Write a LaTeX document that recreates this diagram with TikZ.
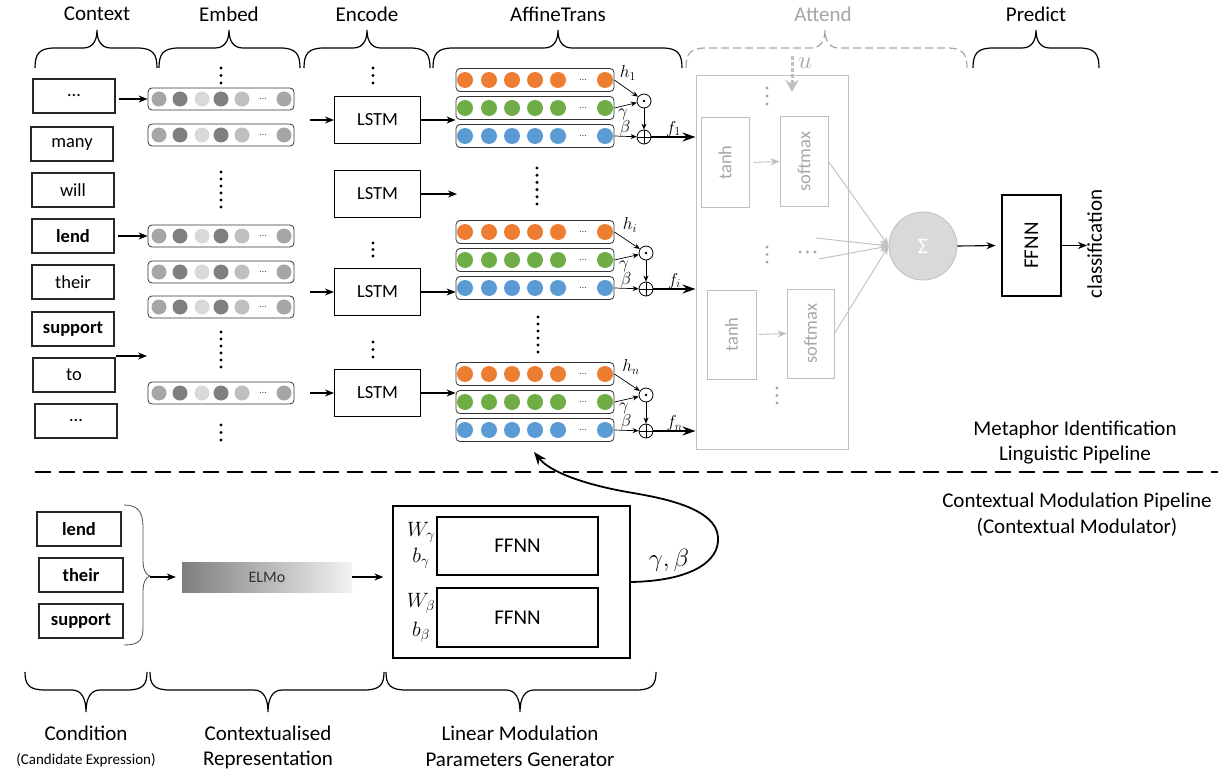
\documentclass[tikz,border=0pt]{standalone}
\usepackage{fontspec}
\setmainfont{Carlito}
\usetikzlibrary{arrows.meta,calc}
\definecolor{cor}{HTML}{ED7D31}
\definecolor{cgr}{HTML}{70AD47}
\definecolor{cbl}{HTML}{5B9BD5}
\definecolor{g1}{HTML}{A6A6A6}
\definecolor{g2}{HTML}{7F7F7F}
\definecolor{g3}{HTML}{D9D9D9}
\definecolor{g4}{HTML}{BFBFBF}
\definecolor{g5}{HTML}{F2F2F2}
\newcommand\fsz[1]{\fontsize{#1}{#1}\selectfont}
% horizontal curly brace: opts, x1, xm, x2, yend, yh, ytip
\newcommand\hbr[7]{%
  \draw[#1] (#2,#5) .. controls (#2,{#6+0.3*(#5-#6)}) and ({#2+4},#6) .. ({#2+20},#6)
    -- ({#3-14},#6) .. controls ({#3-5},#6) and (#3,{#6+0.35*(#7-#6)}) .. (#3,#7)
    .. controls (#3,{#6+0.35*(#7-#6)}) and ({#3+5},#6) .. ({#3+14},#6)
    -- ({#4-20},#6) .. controls ({#4-4},#6) and (#4,{#6+0.3*(#5-#6)}) .. (#4,#5);}
\newcommand\embrow[2]{%
  \node[erow] (#1) at (221,#2) {};
  \foreach \cx/\cc in {159/g1,180/g2,202/g3,221/g2,242/g4,284/g1}{\fill[\cc] (\cx,#2) circle (7.5pt);}
  \node[rdots] (#1d) at (263,#2) {…};}
\newcommand\affrow[3]{%
  \node[arow] (#1) at (535,#2) {};
  \foreach \cx in {465,489,512,535,558,605}{\fill[#3] (\cx,#2) circle (8pt);}
  \node[rdots] (#1d) at (583,#2) {…};}
\newcommand\dotsv[3]{\foreach \yy in {#2}{\fill[#3] (#1,\yy) circle (1.7pt);}}
\begin{document}
\begin{tikzpicture}[x=1pt,y=-1pt,
  head/.style={font=\fsz{21}, inner sep=0},
  lab/.style={font=\fsz{21}, inner sep=0},
  wbox/.style={draw=black!85, line width=1.1pt, minimum width=82pt, minimum height=34pt, inner sep=0, font=\fsz{18.5}},
  bwbox/.style={wbox, font=\fsz{18.5}\bfseries},
  erow/.style={draw=black!80, line width=0.8pt, rounded corners=4pt, minimum width=146pt, minimum height=22pt, inner sep=0},
  arow/.style={erow, minimum width=158pt, minimum height=23pt},
  rdots/.style={font=\fsz{10}, text=black!70, inner sep=0},
  lstm/.style={draw, line width=1.1pt, minimum width=86pt, minimum height=47pt, inner sep=0, font=\fsz{18.5}},
  op/.style={circle, draw, line width=0.8pt, minimum size=14pt, inner sep=0},
  mlab/.style={font=\fsz{17}, inner sep=0},
  arr/.style={-{Stealth[length=9pt,width=7pt]}, line width=1.1pt},
  tarr/.style={-{Stealth[length=6pt,width=5pt]}, line width=0.7pt},
  farr/.style={-{Stealth[length=13pt,width=9pt]}, line width=1.8pt},
  garr/.style={draw=g4, -{Stealth[length=9pt,width=7pt]}, line width=0.9pt},
  abox/.style={draw=g4, line width=1pt, text=g1, rotate=90, inner sep=0, font=\fsz{18.5}},
  brc/.style={line width=1.2pt},
  ffbox/.style={draw, line width=1.1pt, inner sep=0, font=\fsz{21}}
]
\useasboundingbox (0,0) rectangle (1226,773);

% ---------- headings and braces ----------
\node[head] (hctx) at (97,14) {Context};
\node[head] (hemb) at (229,14) {Embed};
\node[head] (henc) at (367,14) {Encode};
\node[head] (haff) at (558,14) {AffineTrans};
\node[head, text=g1] (hatt) at (823,14) {Attend};
\node[head] (hpre) at (1036,14) {Predict};
\hbr{brc}{35}{97}{157}{68}{48}{30}
\hbr{brc}{159}{229}{300}{68}{48}{30}
\hbr{brc}{304}{367}{430}{68}{48}{30}
\hbr{brc}{433}{558}{682}{68}{48}{30}
\hbr{brc, draw=g1, dash pattern=on 8pt off 4pt}{686}{825}{967}{68}{48}{30}
\hbr{brc}{973}{1036}{1099}{68}{48}{30}

% ---------- context ----------
\node[wbox] (w1) at (74,96) {…};
\node[wbox] (w2) at (72,144) {many};
\node[wbox] (w3) at (73,190) {will};
\node[bwbox] (w4) at (73,236) {lend};
\node[wbox] (w5) at (73,282) {their};
\node[bwbox] (w6) at (73,329) {support};
\node[wbox] (w7) at (74,375) {to};
\node[wbox] (w8) at (76,421) {…};

% ---------- embed ----------
\embrow{e1}{99}
\embrow{e2}{135}
\embrow{e3}{236}
\embrow{e4}{272}
\embrow{e5}{307}
\embrow{e6}{393}
\dotsv{221}{68,75.5,83}{black}
\dotsv{221}{172,179,...,207}{black}
\dotsv{221}{332,339,...,367}{black}
\dotsv{221}{425,432.5,440}{black}
\draw[arr, shorten <=3pt] (w1.east |- e1.west) -- (e1.west);
\draw[arr, shorten <=3pt] (w4.east) -- (w4.east -| e3.west);
\coordinate (ca) at (116,356);
\coordinate (cb) at (147,356);
\draw[arr] (ca) -- (cb);

% ---------- encode ----------
\node[lstm] (l1) at (377.5,120) {LSTM};
\node[lstm] (l2) at (377.5,194) {LSTM};
\node[lstm] (l3) at (377.5,292) {LSTM};
\node[lstm] (l4) at (377.5,393) {LSTM};
\dotsv{373}{68,75.5,83}{black}
\dotsv{373}{243,249.5,256}{black}
\dotsv{373}{342,349.5,357}{black}
\coordinate (li1) at (310,120);
\coordinate (li3) at (310,292);
\coordinate (li4) at (310,393);
\draw[arr] (li1) -- (l1.west);
\draw[arr] (li3) -- (l3.west);
\draw[arr] (li4) -- (l4.west);

% ---------- affine ----------
\affrow{a1o}{80}{cor}
\affrow{a1g}{108}{cgr}
\affrow{a1b}{136}{cbl}
\affrow{a2o}{232}{cor}
\affrow{a2g}{260}{cgr}
\affrow{a2b}{288}{cbl}
\affrow{a3o}{374}{cor}
\affrow{a3g}{402}{cgr}
\affrow{a3b}{430}{cbl}
\dotsv{537}{168,175.2,...,204}{black}
\dotsv{538}{317,324,...,352}{black}
\coordinate (lo2) at (457,194);
\draw[arr] (l1.east) -- (l1.east -| a1g.west);
\draw[arr] (l2.east) -- (lo2);
\draw[arr] (l3.east) -- (l3.east -| a2b.west);
\draw[arr] (l4.east) -- (l4.east -| a3g.west);

% operators
\node[op] (m1) at (644,101) {};
\node[op] (p1) at (644,137) {};
\node[op] (m2) at (646,253) {};
\node[op] (p2) at (646,289) {};
\node[op] (m3) at (646,395) {};
\node[op] (p3) at (646,431) {};
\foreach \m in {m1,m2,m3}{\fill (\m) circle (1.3pt);}
\foreach \p in {p1,p2,p3}{\draw[line width=0.8pt] (\p.north) -- (\p.south) (\p.west) -- (\p.east);}

% attend box
\node[draw=g4, line width=1pt, minimum width=152pt, minimum height=373pt, inner sep=0] (att) at (772,262.5) {};

\draw[tarr] (a1o.east) -- (m1);
\draw[tarr] (a1g.east) -- (m1);
\draw[tarr] (a1b.east) -- (p1);
\draw[tarr] (m1) -- (p1);
\node[mlab] (h1) at (628,73) {$h_1$};
\node[mlab] (gm1) at (623,114) {$\gamma$};
\node[mlab] (bt1) at (625,128) {$\beta$};
\draw[farr] (p1) -- (p1 -| att.west) node[midway, above=-4pt, font=\fsz{17}] (f1) {$f_1$};

\draw[tarr] (a2o.east) -- (m2);
\draw[tarr] (a2g.east) -- (m2);
\draw[tarr] (a2b.east) -- (p2);
\draw[tarr] (m2) -- (p2);
\node[mlab] (h2) at (630,225) {$h_i$};
\node[mlab] (gm2) at (624,266) {$\gamma$};
\node[mlab] (bt2) at (626,280) {$\beta$};
\draw[farr] (p2) -- (p2 -| att.west) node[midway, above=-4pt, font=\fsz{17}] (f2) {$f_i$};

\draw[tarr] (a3o.east) -- (m3);
\draw[tarr] (a3g.east) -- (m3);
\draw[tarr] (a3b.east) -- (p3);
\draw[tarr] (m3) -- (p3);
\node[mlab] (h3) at (631,367) {$h_n$};
\node[mlab] (gm3) at (624,408) {$\gamma$};
\node[mlab] (bt3) at (626,422) {$\beta$};
\draw[farr] (p3) -- (p3 -| att.west) node[midway, above=-4pt, font=\fsz{17}] (f3) {$f_n$};

% ---------- attend internals ----------
\coordinate (u0) at (792,56);
\coordinate (u1) at (792,92);
\draw[g4, line width=3pt, dash pattern=on 4pt off 2pt, -{Stealth[length=12pt,width=13pt]}] (u0) -- (u1);
\node[text=g1, font=\fsz{24}, inner sep=0] (ul) at (805,63) {$u$};
\node[abox, minimum width=89pt, minimum height=48pt] (t1) at (725,162.5) {tanh};
\node[abox, minimum width=89pt, minimum height=48pt] (s1) at (804,161.5) {softmax};
\node[abox, minimum width=89pt, minimum height=49pt] (t2) at (731.5,334.5) {tanh};
\node[abox, minimum width=89pt, minimum height=47pt] (s2) at (810.5,333.5) {softmax};
\draw[garr, shorten <=4pt] (t1.south) -- (s1.north);
\draw[garr, shorten <=2pt] (t2.south) -- (s2.north);
\dotsv{767}{88,96,104}{g1}
\dotsv{767}{247,254.5,262}{g1}
\dotsv{777}{388,395.5,403}{g1}
\foreach \xx in {800,807.5,815}{\fill[g1] (\xx,252) circle (1.7pt);}
\node[circle, fill=g3, draw=g4, line width=0.8pt, minimum size=68pt, inner sep=0, text=white, font=\fsz{22}] (sig) at (923,246) {Σ};
\coordinate (q1) at (816,238);
\coordinate (q2) at (819,259);
\draw[garr] (s1.south) -- (sig.west);
\draw[garr] (s2.south) -- (sig.west);
\draw[garr] (q1) -- (sig.west);
\draw[garr] (q2) -- (sig.west);

% ---------- predict ----------
\node[ffbox, rotate=90, minimum width=101pt, minimum height=59pt] (ffp) at (1031.5,245.5) {FFNN};
\draw[arr, shorten >=6pt] (sig.east) -- (ffp.north);
\node[rotate=90, anchor=north, inner sep=0, font=\fsz{21}] (cls) at (1087,244) {classification};
\draw[arr] (ffp.south) -- (ffp.south -| cls.north);

% ---------- separator and pipeline labels ----------
\draw[line width=1.8pt, dash pattern=on 16pt off 8pt] (35,472) -- (1218,472);
\node[lab] (mi1) at (1075,430) {Metaphor Identification};
\node[lab] (mi2) at (1075,455) {Linguistic Pipeline};
\node[lab] (cm1) at (1077,502) {Contextual Modulation Pipeline};
\node[lab] (cm2) at (1077,527) {(Contextual Modulator)};

% ---------- bottom: condition ----------
\node[bwbox, minimum width=84pt] (c1) at (79,529) {lend};
\node[bwbox, minimum width=84pt] (c2) at (81,575) {their};
\node[bwbox, minimum width=84pt] (c3) at (81,621) {support};
\draw[line width=0.8pt, draw=black!70] (124,505) .. controls (138,505) and (143,512) .. (143,527) -- (143,560)
  .. controls (143,570) and (146,575) .. (150,576) .. controls (146,577) and (143,582) .. (143,592)
  -- (143,628) .. controls (143,641) and (138,645) .. (124,645);
\coordinate (btip) at (150,577);
\node[left color=g2, right color=g5, minimum width=170pt, minimum height=30pt, inner sep=0, font=\fsz{16}, text=black!80] (elmo) at (267,577) {ELMo};
\draw[arr, shorten >=6pt] (btip) -- (elmo.west);

% ---------- generator ----------
\node[draw, line width=1.2pt, minimum width=237pt, minimum height=152pt, inner sep=0] (gen) at (511.5,582) {};
\node[ffbox, minimum width=161pt, minimum height=58pt] (ff1) at (517.5,546) {FFNN};
\node[ffbox, minimum width=161pt, minimum height=59pt] (ff2) at (517.5,617.5) {FFNN};
\draw[arr, shorten >=9pt] (elmo.east) -- (elmo.east -| gen.west);
\node[font=\fsz{21}, inner sep=0] (wg) at (421,532) {$W_\gamma$};
\node[font=\fsz{21}, inner sep=0] (bg) at (421,558) {$b_\gamma$};
\node[font=\fsz{21}, inner sep=0] (wb) at (421,603) {$W_\beta$};
\node[font=\fsz{21}, inner sep=0] (bb) at (421,632) {$b_\beta$};
\coordinate (cend) at (534,452);
\draw[-{Stealth[length=13pt,width=10pt]}, line width=1.8pt] (gen.east) .. controls (690,581) and (720,562) .. (718,537)
  .. controls (716,508) and (662,498) .. (633,493) .. controls (585,485) and (550,472) .. (cend);
\node[font=\fsz{24}, inner sep=0] (gb) at (669,560) {$\gamma,\beta$};

% ---------- bottom braces and labels ----------
\hbr{brc}{25}{86}{147}{672}{690}{712}
\hbr{brc}{150}{268}{384}{672}{690}{712}
\hbr{brc}{386}{520}{656}{672}{690}{712}
\node[lab] (lc1) at (86,733) {Condition};
\node[font=\fsz{15}, inner sep=0] (lc2) at (86,760) {(Candidate Expression)};
\node[lab] (lr1) at (268,733) {Contextualised};
\node[lab] (lr2) at (268,760) {Representation};
\node[lab] (ll1) at (520,733) {Linear Modulation};
\node[lab] (ll2) at (520,760) {Parameters Generator};
\end{tikzpicture}
\end{document}
